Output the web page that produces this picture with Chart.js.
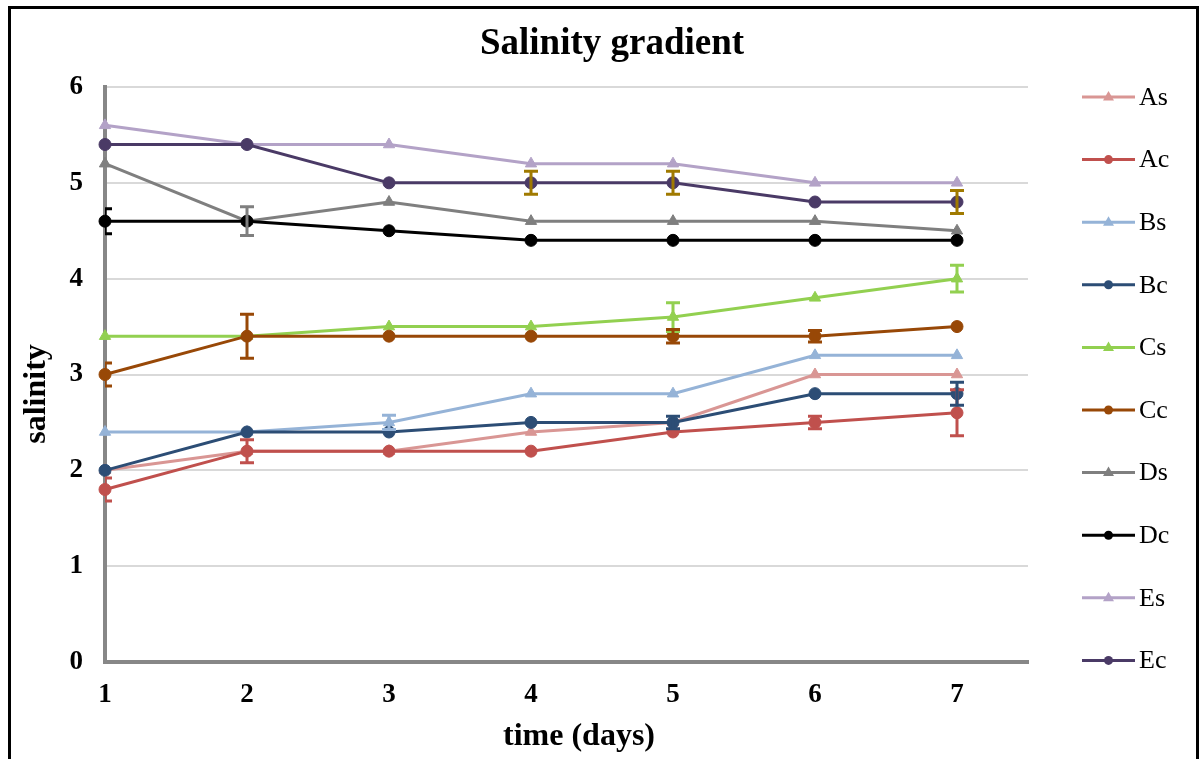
<!DOCTYPE html>
<html>
<head>
<meta charset="utf-8">
<script src="https://cdn.jsdelivr.net/npm/chart.js@4.4.1/dist/chart.umd.min.js"></script>
<style>
html,body{margin:0;padding:0;background:#fff;}
#wrap{width:1203px;height:759px;}
</style>
</head>
<body>
<div id="wrap"><canvas id="c" width="1203" height="759"></canvas></div>
<script>
const days = [1, 2, 3, 4, 5, 6, 7];
const seriesNames = ['As', 'Ac', 'Bs', 'Bc', 'Cs', 'Cc', 'Ds', 'Dc', 'Es', 'Ec'];
const As = [2.0, 2.2, 2.2, 2.4, 2.5, 3.0, 3.0];
const Ac = [1.8, 2.2, 2.2, 2.2, 2.4, 2.5, 2.6];
const Bs = [2.4, 2.4, 2.5, 2.8, 2.8, 3.2, 3.2];
const Bc = [2.0, 2.4, 2.4, 2.5, 2.5, 2.8, 2.8];
const Cs = [3.4, 3.4, 3.5, 3.5, 3.6, 3.8, 4.0];
const Cc = [3.0, 3.4, 3.4, 3.4, 3.4, 3.4, 3.5];
const Ds = [5.2, 4.6, 4.8, 4.6, 4.6, 4.6, 4.5];
const Dc = [4.6, 4.6, 4.5, 4.4, 4.4, 4.4, 4.4];
const Es = [5.6, 5.4, 5.4, 5.2, 5.2, 5.0, 5.0];
const Ec = [5.4, 5.4, 5.0, 5.0, 5.0, 4.8, 4.8];

// error bar half-widths (0 = none)
const AsErr = [0, 0, 0, 0, 0, 0, 0];
const AcErr = [0.12, 0.12, 0, 0, 0, 0.065, 0.24];
const BsErr = [0, 0, 0.075, 0, 0, 0, 0];
const BcErr = [0, 0, 0, 0, 0.065, 0, 0.12];
const CsErr = [0, 0, 0, 0, 0.15, 0, 0.14];
const CcErr = [0.12, 0.23, 0, 0, 0.07, 0.06, 0];
const DsErr = [0, 0.15, 0, 0, 0, 0, 0];
const DcErr = [0.13, 0, 0, 0, 0, 0, 0];
const EsErr = [0, 0, 0, 0, 0, 0, 0];
const EcErr = [0, 0, 0, 0.12, 0.12, 0, 0.12];

const yTicks = [0, 1, 2, 3, 4, 5, 6];
const titleText = 'Salinity gradient';
const xTitle = 'time (days)';
const yTitle = 'salinity';

const values = [As, Ac, Bs, Bc, Cs, Cc, Ds, Dc, Es, Ec];
const errors = [AsErr, AcErr, BsErr, BcErr, CsErr, CcErr, DsErr, DcErr, EsErr, EcErr];
const colors = ['#D99694', '#C0504D', '#95B3D7', '#2C4D75', '#92D050', '#984807', '#7F7F7F', '#000000', '#B3A2C7', '#4A3A66'];
const errColors = ['#D99694', '#C0504D', '#95B3D7', '#2C4D75', '#92D050', '#984807', '#7F7F7F', '#000000', '#B3A2C7', '#A07A00'];
const styles = ['triangle', 'circle', 'triangle', 'circle', 'triangle', 'circle', 'triangle', 'circle', 'triangle', 'circle'];

const SERIF = '"Liberation Serif", "Times New Roman", serif';

const datasets = seriesNames.map((n, i) => ({
  label: n,
  data: days.map((d, j) => ({x: d, y: values[i][j]})),
  borderColor: colors[i],
  backgroundColor: colors[i],
  borderWidth: 3,
  pointStyle: styles[i],
  pointRadius: styles[i] === 'triangle' ? 6.5 : 6,
  pointBorderWidth: 1,
  tension: 0,
  clip: false,
  order: seriesNames.length - 1 - i
}));

const decor = {
  id: 'decor',
  beforeDraw(chart) {
    const ctx = chart.ctx;
    ctx.save();
    ctx.fillStyle = '#fff';
    ctx.fillRect(0, 0, chart.width, chart.height);
    ctx.strokeStyle = '#000';
    ctx.lineWidth = 3;
    ctx.beginPath();
    ctx.moveTo(9.5, 759);
    ctx.lineTo(9.5, 7.5);
    ctx.lineTo(1197.5, 7.5);
    ctx.lineTo(1197.5, 759);
    ctx.stroke();
    ctx.restore();
  },
  afterDatasetsDraw(chart) {
    const ctx = chart.ctx;
    const xs = chart.scales.x, ys = chart.scales.y;
    const a = chart.chartArea;
    ctx.save();
    ctx.beginPath();
    ctx.rect(a.left, 0, a.right - a.left, chart.height);
    ctx.clip();
    ctx.lineWidth = 3;
    errors.forEach((err, i) => {
      ctx.strokeStyle = errColors[i];
      err.forEach((e, j) => {
        if (!e) return;
        const x = xs.getPixelForValue(days[j]);
        const y1 = ys.getPixelForValue(values[i][j] + e);
        const y2 = ys.getPixelForValue(values[i][j] - e);
        ctx.beginPath();
        ctx.moveTo(x, y1); ctx.lineTo(x, y2);
        ctx.moveTo(x - 7, y1); ctx.lineTo(x + 7, y1);
        ctx.moveTo(x - 7, y2); ctx.lineTo(x + 7, y2);
        ctx.stroke();
      });
    });
    ctx.restore();
  },
  afterDraw(chart) {
    const ctx = chart.ctx;
    ctx.save();
    ctx.fillStyle = '#000';
    // chart title
    ctx.font = 'bold 37px ' + SERIF;
    ctx.textAlign = 'center';
    ctx.textBaseline = 'middle';
    ctx.fillText(titleText, 612, 44);
    // axis titles
    ctx.font = 'bold 32px ' + SERIF;
    ctx.fillText(xTitle, 579, 737);
    ctx.save();
    ctx.translate(37, 394);
    ctx.rotate(-Math.PI / 2);
    ctx.fillText(yTitle, 0, 0);
    ctx.restore();
    // legend
    ctx.font = '26px ' + SERIF;
    ctx.textAlign = 'left';
    chart.data.datasets.forEach((ds, i) => {
      const y = 97 + i * 62.6;
      ctx.strokeStyle = ds.borderColor;
      ctx.lineWidth = 3;
      ctx.beginPath();
      ctx.moveTo(1082, y); ctx.lineTo(1135, y);
      ctx.stroke();
      ctx.fillStyle = ds.borderColor;
      ctx.beginPath();
      if (ds.pointStyle === 'triangle') {
        ctx.moveTo(1108.5, y - 6); ctx.lineTo(1114, y + 3.5); ctx.lineTo(1103, y + 3.5); ctx.closePath();
      } else {
        ctx.arc(1108.5, y, 4.5, 0, Math.PI * 2);
      }
      ctx.fill();
      ctx.fillStyle = '#000';
      ctx.fillText(ds.label, 1139, y + 1);
    });
    ctx.restore();
  }
};

new Chart(document.getElementById('c'), {
  type: 'line',
  data: {datasets},
  plugins: [decor],
  options: {
    responsive: false,
    animation: false,
    events: [],
    layout: {padding: {top: 87, right: 175, left: 0, bottom: 0}},
    plugins: {legend: {display: false}, title: {display: false}, tooltip: {enabled: false}},
    scales: {
      x: {
        type: 'linear',
        min: 1, max: 7.5,
        afterFit(s) { s.height = 97; },
        grid: {display: false, drawTicks: false},
        border: {display: true, color: '#878787', width: 4},
        ticks: {
          stepSize: 1, includeBounds: false, padding: 17, color: '#000',
          font: {family: SERIF, size: 27, weight: 'bold'},
          callback: (v) => days.includes(v) ? String(v) : ''
        },
        title: {display: false}
      },
      y: {
        min: 0, max: 6,
        afterFit(s) { s.width = 105; },
        afterBuildTicks(s) { s.ticks = yTicks.map(v => ({value: v})); },
        grid: {color: '#D9D9D9', lineWidth: 2, drawTicks: false},
        border: {display: true, color: '#878787', width: 4},
        ticks: {padding: 22, color: '#000', font: {family: SERIF, size: 27, weight: 'bold'}},
        title: {display: false}
      }
    }
  }
});
</script>
</body>
</html>
